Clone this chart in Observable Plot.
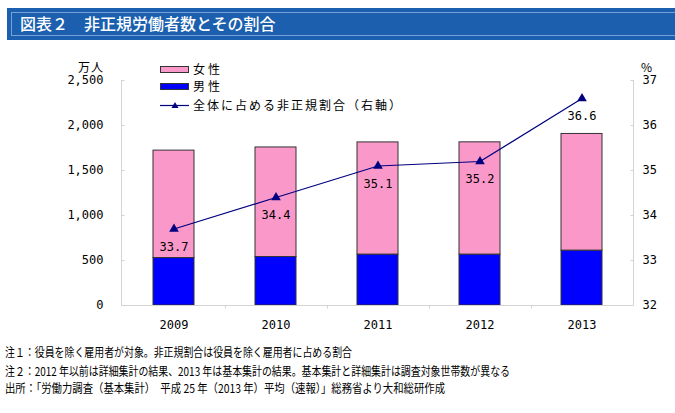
<!DOCTYPE html>
<html><head><meta charset="utf-8">
<script src="https://cdn.jsdelivr.net/npm/d3@7"></script>
<script src="https://cdn.jsdelivr.net/npm/@observablehq/plot@0.6"></script>
<style>
body{margin:0;background:#fff;}
#wrap{position:relative;width:675px;height:413px;overflow:hidden;background:#fff;font-family:"Noto Sans CJK JP",sans-serif;}
#title{position:absolute;left:7px;top:8px;width:668px;height:32px;background:#1b5fae;}
#title .inner{position:absolute;left:4px;top:4px;right:-2px;bottom:4px;border:1px solid #74a2d6;border-right:none;}
#title .txt{position:absolute;left:13px;top:5px;color:#fff;font-size:16px;line-height:20px;font-weight:500;white-space:nowrap;}
#chart{position:absolute;left:0;top:45px;}
.lab{position:absolute;font-size:12px;line-height:14px;white-space:nowrap;color:#000;}
.sw{position:absolute;width:27px;height:5px;border:1px solid #333;}
.foot{position:absolute;left:5px;font-size:12px;line-height:14px;white-space:nowrap;transform-origin:0 50%;color:#000;}
</style></head>
<body><div id="wrap">
<div id="title"><div class="inner"></div><div class="txt" id="ttl"></div></div>
<div id="chart"></div>
</div>
<script>
const years = ["2009","2010","2011","2012","2013"];
const male = [527, 539, 566, 566, 610];
const female = [1194, 1217, 1246, 1247, 1296];
const ratio = [33.7, 34.4, 35.1, 35.2, 36.6];
const leftTicks = [0, 500, 1000, 1500, 2000, 2500];
const rightTicks = [32, 33, 34, 35, 36, 37];
const seriesNames = ["男性", "女性"];
const seriesColors = ["#0000ff", "#fa99c9"];
const lineName = "全体に占める非正規割合（右軸）";
const leftUnit = "万人", rightUnit = "%";
const titleText = "図表２　非正規労働者数とその割合";
const notes = [
  "注１：役員を除く雇用者が対象。非正規割合は役員を除く雇用者に占める割合",
  "注２：2012 年以前は詳細集計の結果、2013 年は基本集計の結果。基本集計と詳細集計は調査対象世帯数が異なる",
  "出所：「労働力調査（基本集計）　平成 25 年（2013 年）平均（速報）」総務省より大和総研作成"
];
document.getElementById("ttl").textContent = titleText;

// right-axis percent mapped onto the left scale: 32..37 -> 0..2500
const rMin = 32, rPerUnit = 500;
const toLeft = p => (p - rMin) * rPerUnit;

const bars = [];
years.forEach((y, i) => {
  bars.push({year: y, sex: seriesNames[0], value: male[i]});
  bars.push({year: y, sex: seriesNames[1], value: female[i]});
});
const pts = years.map((y, i) => ({year: y, r: ratio[i], v: toLeft(ratio[i])}));

const axisColor = "#d4d4d4";
// frame lines (left, right, bottom) and category-boundary ticks, drawn from the scales
function axisFrame(index, scales, values, dimensions) {
  const {width, height, marginLeft, marginRight, marginTop, marginBottom} = dimensions;
  const g = d3.create("svg:g").attr("stroke", axisColor).attr("fill", "none");
  const x0 = marginLeft + 0.5, x1 = width - marginRight + 0.5;
  const yb = height - marginBottom + 0.5, yt = marginTop;
  g.append("line").attr("x1", x0).attr("x2", x0).attr("y1", yt).attr("y2", yb);
  g.append("line").attr("x1", x1).attr("x2", x1).attr("y1", yt).attr("y2", yb);
  const bw = scales.x.bandwidth ? scales.x.bandwidth() : 0;
  const c = years.map(y => scales.x(y) + bw / 2);
  for (let i = 0; i < c.length - 1; i++) {
    const xm = Math.round((c[i] + c[i + 1]) / 2) + 0.5;
    g.append("line").attr("x1", xm).attr("x2", xm).attr("y1", yb).attr("y2", yb + 3);
  }
  leftTicks.forEach(t => {
    const yy = Math.round(scales.y(t)) + 0.5;
    g.append("line").attr("x1", x0).attr("x2", x0 + 3).attr("y1", yy).attr("y2", yy);
    g.append("line").attr("x1", x1 - 3).attr("x2", x1).attr("y1", yy).attr("y2", yy);
  });
  return g.node();
}

const plot = Plot.plot({
  width: 675, height: 295,
  marginLeft: 121, marginRight: 42, marginTop: 35, marginBottom: 35,
  style: {fontFamily: "DejaVu Sans Mono", fontSize: "12px", color: "#000", background: "transparent"},
  x: {domain: years, paddingInner: 0.6, paddingOuter: 0.3, label: null},
  y: {domain: [0, 2500], label: null},
  color: {domain: seriesNames, range: seriesColors},
  marks: [
    Plot.barY(bars, {x: "year", y: "value", fill: "sex", stroke: "#333", strokeWidth: 1}),
    Plot.ruleY([0], {stroke: axisColor}),
    axisFrame,
    Plot.line(pts, {x: "year", y: "v", stroke: "#000080", strokeWidth: 1.2}),
    Plot.dot(pts, {x: "year", y: "v", symbol: "triangle", r: 3.6, fill: "#000080", stroke: "none"}),
    Plot.text(pts, {x: "year", y: "v", text: d => d.r.toFixed(1), dy: 18, fill: "#000", fontSize: 12}),
    Plot.axisY({anchor: "left", ticks: leftTicks, tickFormat: d3.format(","), tickSize: 0, tickPadding: 18, label: null}),
    Plot.axisY({anchor: "right", ticks: rightTicks.map(toLeft), tickFormat: d => String(rMin + d / rPerUnit), tickSize: 0, tickPadding: 9, label: null}),
    Plot.axisX({tickSize: 0, tickPadding: 15, label: null})
  ]
});
document.getElementById("chart").appendChild(plot);

const wrap = document.getElementById("wrap");
function addLab(text, left, top, extra) {
  const d = document.createElement("div");
  d.className = "lab"; d.textContent = text;
  d.style.left = left + "px"; d.style.top = top + "px";
  if (extra) Object.assign(d.style, extra);
  wrap.appendChild(d); return d;
}
// unit labels
addLab(leftUnit, 78, 60, {letterSpacing: "1px"});
addLab(rightUnit, 641, 60);
// legend
[[seriesNames[1], seriesColors[1], 66], [seriesNames[0], seriesColors[0], 83]].forEach(([n, c, t]) => {
  const s = document.createElement("div");
  s.className = "sw"; s.style.left = "160px"; s.style.top = t + "px"; s.style.background = c;
  wrap.appendChild(s);
  addLab(n, 193, t - 4, {letterSpacing: "3px"});
});
const ls = document.createElementNS("http://www.w3.org/2000/svg", "svg");
ls.setAttribute("width", 32); ls.setAttribute("height", 10);
ls.style.position = "absolute"; ls.style.left = "159px"; ls.style.top = "100px";
ls.innerHTML = '<line x1="1" y1="5.5" x2="30" y2="5.5" stroke="#000080" stroke-width="1.2"/><path d="M16,2 L19.5,8 L12.5,8 Z" fill="#000080"/>';
wrap.appendChild(ls);
addLab(lineName, 193, 98, {letterSpacing: "2px"});

// footnotes
const footTops = [345, 364, 381];
const footWidths = [347, 505, 440];
const footEls = notes.map((n, i) => addLab(n, 5, footTops[i], {}));
footEls.forEach(e => e.className = "foot");
function fit() {
  footEls.forEach((e, i) => {
    e.style.transform = "none";
    const w = e.getBoundingClientRect().width;
    e.style.transform = `scaleX(${footWidths[i] / w})`;
  });
}
fit();
if (document.fonts) document.fonts.ready.then(fit);
</script>
</body></html>
